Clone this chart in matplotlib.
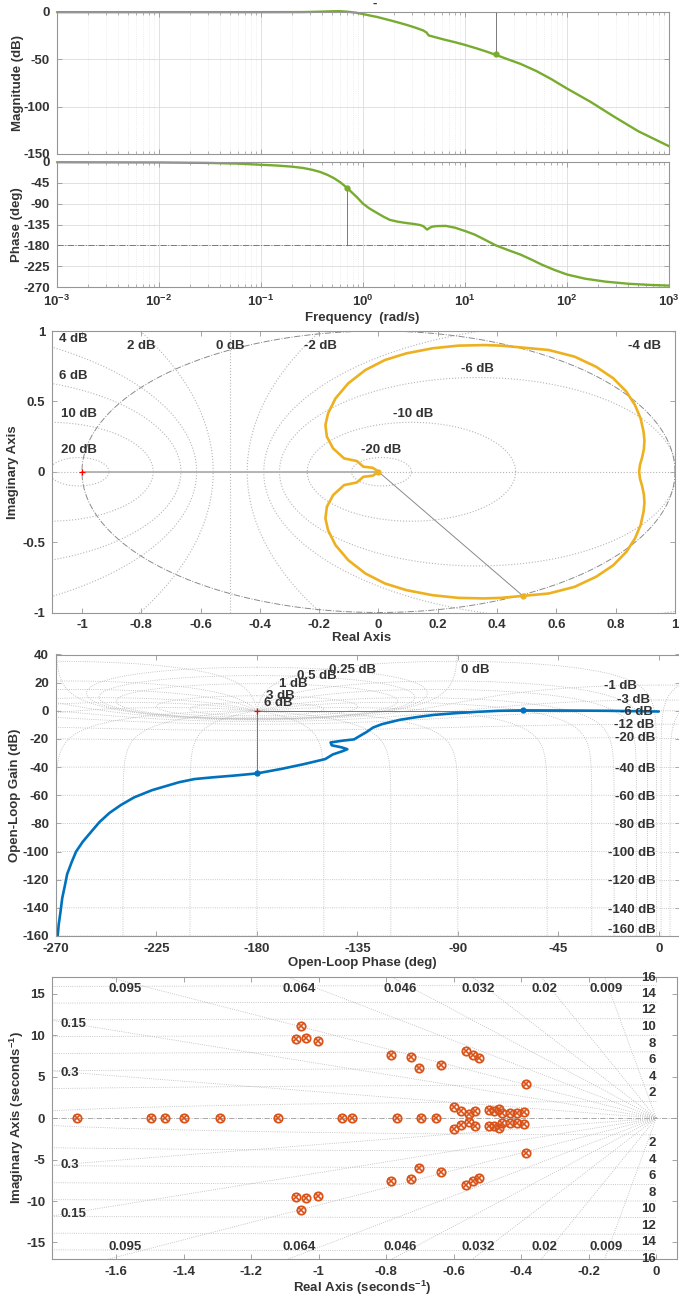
import numpy as np
import matplotlib
matplotlib.use('Agg')
import matplotlib.pyplot as plt

plt.rcParams['font.family'] = ['Liberation Sans', 'DejaVu Sans']
plt.rcParams['font.weight'] = 'bold'
plt.rcParams['axes.unicode_minus'] = False
plt.rcParams['mathtext.fontset'] = 'custom'
plt.rcParams['mathtext.rm'] = 'Liberation Sans:bold'
plt.rcParams['mathtext.bf'] = 'Liberation Sans:bold'
plt.rcParams['mathtext.it'] = 'Liberation Sans:bold'
plt.rcParams['mathtext.default'] = 'bf'

# ---------------- data ----------------
# Bode magnitude
mag_freq = [0.001, 0.01, 0.1, 0.26, 0.34, 0.45, 0.58, 0.7, 0.85, 1.0, 1.2, 1.37, 1.83, 2.2, 2.7, 3.3, 3.9, 4.2, 4.4, 5.0, 6.3, 8.0,
            10, 13, 16, 19.5, 25, 35, 50, 70, 100, 170, 290, 500, 1000]
mag_db = [-0.5, -0.5, -0.5, -0.4, -0.1, 0.3, 0.6, 0.0, -1.0, -2.5, -4.3, -5.5, -9, -11.3, -14, -17, -19.8, -22, -25, -26.6, -29.5, -32.2,
          -35, -38.7, -41.8, -45, -49.3, -55, -62.5, -71, -81, -95, -110.7, -126, -141.8]
# Bode phase
ph_freq = [0.001, 0.01, 0.03, 0.06, 0.1, 0.14, 0.2, 0.26, 0.32, 0.38, 0.45, 0.52, 0.6, 0.69, 0.78, 0.88, 1.0, 1.15, 1.37, 1.6,
           1.83, 2.2, 2.7, 3.2, 3.6, 3.9, 4.1, 4.25, 4.45, 4.7, 5.2, 6.5, 8.0, 10, 12.5, 15.7, 20, 27, 35, 45, 57, 75, 100,
           150, 240, 400, 650, 1000]
ph_deg = [-0.5, -1, -2, -3.5, -6, -7.5, -10, -13, -17, -21.5, -28, -35, -44, -55, -66, -77, -90, -100, -110, -118.5,
          -125, -129, -132, -134, -136, -138.5, -143, -146, -143, -140, -138.5, -138, -142, -149, -157, -168, -180, -191, -200, -211, -222, -233, -243,
          -252, -258.5, -263, -265.5, -267]
gm_freq, gm_db = 20.0, -45.0
pm_freq, pm_deg = 0.7, -57.0

# Nyquist (positive frequencies, lower half)
nyq_re = [0.879, 0.882, 0.889, 0.895, 0.897, 0.894, 0.884, 0.865, 0.836, 0.792, 0.734, 0.661, 0.574, 0.487, 0.414, 0.356, 0.269, 0.182,
          0.094, 0.022, -0.044, -0.102, -0.145, -0.170, -0.179, -0.174, -0.153, -0.116, -0.073, -0.051, -0.019, 0.0]
nyq_im = [0.0, -0.05, -0.10, -0.16, -0.22, -0.284, -0.379, -0.474, -0.569, -0.664, -0.746, -0.818, -0.865, -0.882, -0.896, -0.900, -0.896, -0.877,
          -0.841, -0.794, -0.723, -0.628, -0.521, -0.415, -0.332, -0.249, -0.166, -0.095, -0.076, -0.036, -0.028, 0.0]
nyq_pm_re, nyq_pm_im = 0.487, -0.882
nyq_mdb = [20, 10, 6, 4, 2, 0, -2, -4, -6, -10, -20]
nyq_lbl = ['4 dB', '2 dB', '0 dB', '-2 dB', '-4 dB', '6 dB', '-6 dB', '10 dB', '-10 dB', '20 dB', '-20 dB']
nyq_lbl_x = [-1.03, -0.80, -0.5, -0.196, 0.898, -1.03, 0.334, -1.01, 0.116, -1.01, 0.01]
nyq_lbl_y = [0.94, 0.89, 0.89, 0.89, 0.89, 0.68, 0.73, 0.41, 0.41, 0.154, 0.154]

# Nichols
nic_phase = [0, -23, -42.4, -61, -71.6, -81, -91, -100.7, -108.5, -116, -124, -128, -131, -133, -136.5, -142, -147, -146.5, -142,
             -139.5, -141.5, -146, -149.4, -159, -168.8, -180, -190, -200, -208, -215, -227, -235, -241, -246, -250.5, -254,
             -258, -261, -263, -265, -266, -267.2, -268, -268.8, -269.3]
nic_gain = [-0.5, 0.0, 0.2, 0.3, 0.0, -0.7, -1.7, -2.9, -4.5, -6.4, -9.5, -11.9, -15.2, -17, -20.3, -21.3, -22.5, -24.5, -26,
            -27.3, -28.6, -31, -34.3, -37.9, -41.2, -44.5, -46, -47.3, -48.5, -50.8, -56.4, -61.5, -67, -72.5, -79, -85.5,
            -93, -100, -107.6, -116, -124, -133, -143, -152, -161]
nic_gm_phase, nic_gm_gain = -180.0, -44.5
nic_pm_phase, nic_pm_gain = -61.0, 0.3
nic_m_db = [6, 3, 1, 0.5, 0.25, 0, -1, -3, -6, -12, -20, -40, -60, -80, -100, -120, -140, -160]
nic_n_deg = [-1, -5, -10, -20, -30, -50, -90, -120, -150, -180, -210, -240, -270, -310, -330, -340, -350, -355, -359]
nic_pos_lbl = ['6 dB', '3 dB', '1 dB', '0.5 dB', '0.25 dB', '0 dB']
nic_pos_x = [-177, -176, -170, -162, -147.5, -88.7]
nic_pos_y = [5.5, 10.2, 19, 24.5, 29.3, 29.3]
nic_neg_lbl = ['-1 dB', '-3 dB', '-6 dB', '-12 dB', '-20 dB', '-40 dB', '-60 dB', '-80 dB', '-100 dB', '-120 dB', '-140 dB', '-160 dB']
nic_neg_x = [-9.7, -4.1, -2.5, -2, -1.5, -1.5, -1.5, -1.5, -1.5, -1.5, -1.5, -1.5]
nic_neg_y = [17.4, 7.4, -0.5, -10, -19.5, -41, -61, -81.4, -101, -121, -141.7, -155.7]

# Pole-zero map
pz_real = [-1.718, -1.497, -1.455, -1.401, -1.294, -1.121, -0.932, -0.902, -0.769, -0.697, -0.652]
pz_cre = [-1.054, -1.067, -1.039, -1.003, -0.787, -0.726, -0.703, -0.639, -0.563, -0.544, -0.524, -0.386,
          -0.600, -0.578, -0.555, -0.536, -0.497, -0.482, -0.465, -0.456, -0.433, -0.414, -0.392]
pz_cim = [11.09, 9.56, 9.68, 9.35, 7.58, 7.38, 6.0, 6.45, 8.06, 7.58, 7.26, 4.15,
          1.29, 0.81, 0.48, 0.89, 1.0, 0.89, 1.13, 0.6, 0.6, 0.6, 0.69]
zeta = [0.009, 0.02, 0.032, 0.046, 0.064, 0.095, 0.15, 0.3]
zeta_lbl = ['0.009', '0.02', '0.032', '0.046', '0.064', '0.095', '0.15', '0.3']
wn = [2, 4, 6, 8, 10, 12, 14, 16]

GREEN = '#77AC30'
YELLOW = '#EDB120'
BLUE = '#0072BD'
ORANGE = '#D95319'
TXT = '#333333'
SPINE = '#969696'
GRIDC = '#b5b5b5'
FS = 9.5

W, H = 679, 1300
fig = plt.figure(figsize=(W / 100, H / 100), dpi=100)


def add_ax(l, t, r, b):
    return fig.add_axes([l / W, 1 - b / H, (r - l) / W, (b - t) / H])


def style(ax):
    for s in ax.spines.values():
        s.set_color(SPINE)
        s.set_linewidth(0.8)
    ax.tick_params(which='both', direction='in', color=SPINE, labelcolor=TXT,
                   labelsize=FS, top=True, right=True)
    ax.tick_params(which='major', length=3.5, width=0.6)
    ax.tick_params(which='minor', length=2, width=0.5)
    ax.tick_params(axis='x', pad=5)
    ax.tick_params(axis='y', pad=5)


def ftext(x, y, s, rot=0, **kw):
    fig.text(x / W, 1 - y / H, s, rotation=rot, ha='center', va='center',
             fontsize=FS, fontweight='bold', color=TXT, **kw)


LKW = dict(solid_joinstyle='round', solid_capstyle='round')

# ---------------- Bode magnitude ----------------
ax1 = add_ax(57, 11.7, 669, 154)
ax1.set_xscale('log')
ax1.set_xlim(1e-3, 1e3)
ax1.set_ylim(-150, 0)
ax1.grid(True, which='major', color='#dcdcdc', lw=0.6, ls='-')
ax1.grid(True, which='minor', axis='x', color='#e4e4e4', lw=0.5, ls=':')
ax1.plot([gm_freq, gm_freq], [0, gm_db], color='#666666', lw=0.6)
ax1.plot(mag_freq, mag_db, color=GREEN, lw=1.7, clip_on=False, **LKW)
ax1.plot([gm_freq], [gm_db], 'o', color=GREEN, ms=3.5)
ax1.set_yticks([-150, -100, -50, 0])
ax1.set_xticks([1e-3, 1e-2, 1e-1, 1, 10, 100, 1000])
ax1.set_xticklabels([])
style(ax1)

# ---------------- Bode phase ----------------
ax2 = add_ax(57, 162, 669, 287)
ax2.set_xscale('log')
ax2.set_xlim(1e-3, 1e3)
ax2.set_ylim(-270, 0)
ax2.grid(True, which='major', color='#dcdcdc', lw=0.6, ls='-')
ax2.grid(True, which='minor', axis='x', color='#e4e4e4', lw=0.5, ls=':')
ax2.axhline(-180, color='#7a7a7a', lw=0.7, ls='-.')
ax2.plot([pm_freq, pm_freq], [-180, pm_deg], color='#666666', lw=0.6)
ax2.plot(ph_freq, ph_deg, color=GREEN, lw=1.7, clip_on=False, **LKW)
ax2.plot([pm_freq], [pm_deg], 'o', color=GREEN, ms=3.5)
ax2.set_yticks([-270, -225, -180, -135, -90, -45, 0])
ax2.set_xticks([1e-3, 1e-2, 1e-1, 1, 10, 100, 1000])
ax2.set_xticklabels([r'$10^{-3}$', r'$10^{-2}$', r'$10^{-1}$', r'$10^{0}$', r'$10^{1}$', r'$10^{2}$', r'$10^{3}$'])
style(ax2)

ftext(18, 83, 'Magnitude (dB)', rot=90)
ftext(17, 225, 'Phase (deg)', rot=90)
ftext(362, 318, 'Frequency  (rad/s)')
ftext(375, 4, '-', )

# ---------------- Nyquist ----------------
ax3 = add_ax(52.3, 331, 675, 612.5)
ax3.set_xlim(-1.1, 1.0)
ax3.set_ylim(-1, 1)
th = np.linspace(0, 2 * np.pi, 600)
for mdb in nyq_mdb:
    if mdb == 0:
        ax3.axvline(-0.5, color=GRIDC, lw=0.8, ls=':')
    else:
        M = 10 ** (mdb / 20)
        c = -M ** 2 / (M ** 2 - 1)
        r = abs(M / (M ** 2 - 1))
        ax3.plot(c + r * np.cos(th), r * np.sin(th), color=GRIDC, lw=0.8, ls=':')
ax3.axhline(0, color=GRIDC, lw=0.8, ls=':')
ax3.plot(np.cos(th), np.sin(th), color='#8a8a8a', lw=0.7, ls='-.')
ax3.plot([-1, 0], [0, 0], color='#b0b0b0', lw=1.3)
ax3.plot([0, nyq_pm_re], [0, nyq_pm_im], color='#8a8a8a', lw=0.7)
re = np.array(nyq_re)
im = np.array(nyq_im)
full_re = np.concatenate([re[::-1], re[1:]])
full_im = np.concatenate([-im[::-1], im[1:]])
ax3.plot(full_re, full_im, color=YELLOW, lw=1.9, **LKW)
ax3.plot([nyq_pm_re], [nyq_pm_im], 'o', color=YELLOW, ms=3.5)
ax3.plot([0], [0], 'o', color=YELLOW, ms=3.5)
ax3.plot([-1], [0], '+', color='red', ms=5, mew=0.9)
for s, x, y in zip(nyq_lbl, nyq_lbl_x, nyq_lbl_y):
    ax3.text(x, y, s, ha='center', va='center', fontsize=FS, fontweight='bold', color=TXT)
ax3.set_xticks(np.round(np.arange(-1, 1.01, 0.2), 1))
ax3.set_xticklabels(['-1', '-0.8', '-0.6', '-0.4', '-0.2', '0', '0.2', '0.4', '0.6', '0.8', '1'])
ax3.set_yticks([-1, -0.5, 0, 0.5, 1])
ax3.set_yticklabels(['-1', '-0.5', '0', '0.5', '1'])
style(ax3)
ftext(13, 472, 'Imaginary Axis', rot=90)
ftext(362, 638, 'Real Axis')

# ---------------- Nichols ----------------
ax4 = add_ax(56, 654.5, 680, 936)
ax4.set_xlim(-270, 9.5)
ax4.set_ylim(-160, 40)
psi = np.linspace(-360, 0, 20001)
for mdb in nic_m_db:
    m = 10 ** (mdb / 20)
    T = m * np.exp(1j * np.deg2rad(psi))
    with np.errstate(divide='ignore', invalid='ignore'):
        G = T / (1 - T)
        gain = 20 * np.log10(np.abs(G))
    ang = np.unwrap(np.angle(1 - T))
    ph = psi - np.rad2deg(ang)
    mid = ph[len(ph) // 2]
    ph = ph - 360 * np.round((mid + 180) / 360)
    ok = np.isfinite(gain)
    for sh in (0, 360):
        ax4.plot(ph[ok] + sh, gain[ok], color=GRIDC, lw=0.6, ls=':')
mm = np.logspace(-9, 9, 40001)
for pd in nic_n_deg:
    T = mm * np.exp(1j * np.deg2rad(pd))
    G = T / (1 - T)
    gain = 20 * np.log10(np.abs(G))
    ph = pd - np.rad2deg(np.angle(1 - T))
    for sh in (0, 360):
        ax4.plot(ph + sh, gain, color=GRIDC, lw=0.6, ls=':')
ax4.plot([-180, 0], [0, 0], color='#777777', lw=0.7)
ax4.plot([nic_gm_phase, nic_gm_phase], [0, nic_gm_gain], color='#777777', lw=0.7)
ax4.plot(nic_phase, nic_gain, color=BLUE, lw=1.9, **LKW)
ax4.plot([nic_gm_phase, nic_pm_phase], [nic_gm_gain, nic_pm_gain], 'o', color=BLUE, ms=3.5)
ax4.plot([-180], [0], '+', color='red', ms=5, mew=0.9)
for s, x, y in zip(nic_pos_lbl, nic_pos_x, nic_pos_y):
    ax4.text(x, y, s, ha='left', va='center', fontsize=FS, fontweight='bold', color=TXT)
for s, x, y in zip(nic_neg_lbl, nic_neg_x, nic_neg_y):
    ax4.text(x, y, s, ha='right', va='center', fontsize=FS, fontweight='bold', color=TXT)
ax4.set_xticks([-270, -225, -180, -135, -90, -45, 0])
ax4.set_yticks(np.arange(-160, 41, 20))
style(ax4)
ftext(15, 795, 'Open-Loop Gain (dB)', rot=90)
ftext(362, 963, 'Open-Loop Phase (deg)')

# ---------------- Pole-zero map ----------------
ax5 = add_ax(52.3, 977.3, 676.5, 1259)
ax5.set_xlim(-1.79, 0.06)
ax5.set_ylim(-17, 17)
for z in zeta:
    L = 40
    ax5.plot([0, -L * z], [0, L * np.sqrt(1 - z ** 2)], color=GRIDC, lw=0.6, ls=':')
    ax5.plot([0, -L * z], [0, -L * np.sqrt(1 - z ** 2)], color=GRIDC, lw=0.6, ls=':')
tt = np.linspace(np.pi / 2, 3 * np.pi / 2, 800)
for r in wn:
    ax5.plot(r * np.cos(tt), r * np.sin(tt), color=GRIDC, lw=0.6, ls=':')
ax5.axhline(0, color='#9a9a9a', lw=0.6, ls='-.')
for z, s in zip(zeta, zeta_lbl):
    k = np.sqrt(1 - z ** 2) / z
    if z < 0.1:
        xl = -16.5 / k
        ax5.text(xl, 15.55, s, ha='center', va='center', fontsize=FS, fontweight='bold', color=TXT)
        ax5.text(xl, -15.6, s, ha='center', va='center', fontsize=FS, fontweight='bold', color=TXT)
    else:
        yl = 1.73 * k
        ax5.text(-1.767, yl, s, ha='left', va='center', fontsize=FS, fontweight='bold', color=TXT)
        ax5.text(-1.767, -yl - 0.2, s, ha='left', va='center', fontsize=FS, fontweight='bold', color=TXT)
for r in wn:
    yu = r + 1 if r < 16 else 16.9
    ax5.text(0.0, yu, str(r), ha='right', va='center', fontsize=FS, fontweight='bold', color=TXT, clip_on=False)
    ax5.text(0.0, -(r + 1), str(r), ha='right', va='center', fontsize=FS, fontweight='bold', color=TXT, clip_on=False)
px = np.concatenate([pz_real, pz_cre, pz_cre])
py = np.concatenate([np.zeros(len(pz_real)), pz_cim, -np.array(pz_cim)])
ax5.plot(px, py, 'o', mfc='none', mec=ORANGE, ms=6, mew=1.3, ls='none')
ax5.plot(px, py, 'x', color=ORANGE, ms=5, mew=1.2, ls='none')
ax5.set_xticks(np.round(np.arange(-1.6, 0.01, 0.2), 1))
ax5.set_xticklabels(['-1.6', '-1.4', '-1.2', '-1', '-0.8', '-0.6', '-0.4', '-0.2', '0'])
ax5.set_yticks([-15, -10, -5, 0, 5, 10, 15])
style(ax5)
ftext(17, 1118, r'Imaginary Axis (seconds$^{-1}$)', rot=90)
ftext(362, 1288, r'Real Axis (seconds$^{-1}$)')

fig.savefig('out.png', dpi=100)
